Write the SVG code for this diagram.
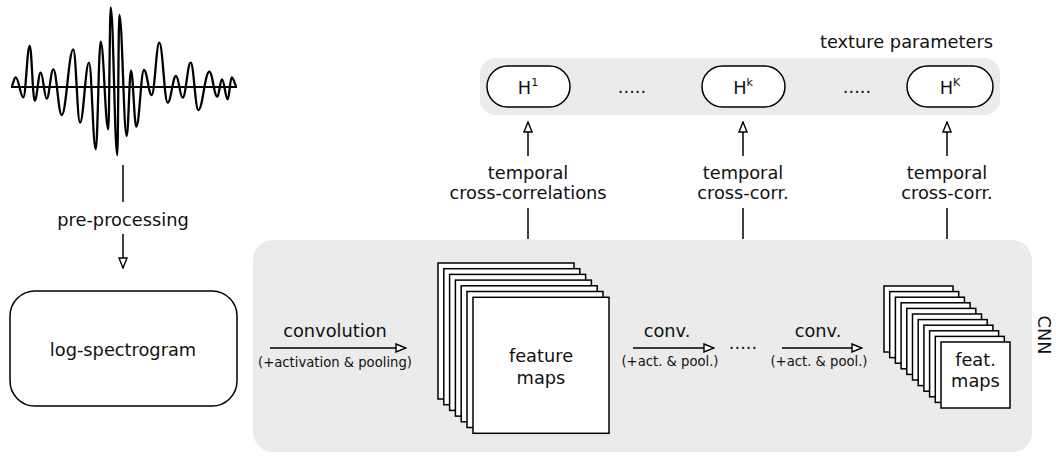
<svg xmlns="http://www.w3.org/2000/svg" width="1056" height="459" viewBox="0 0 1056 459">
<style>
text{font-family:"DejaVu Sans","Liberation Sans",sans-serif;fill:#111}
.t{font-size:17.8px;text-anchor:middle}
.s{font-size:13.2px;text-anchor:middle}
.panel{fill:#ebebeb;stroke:none}
.box{fill:#fff;stroke:#000;stroke-width:1.5}
.sheet{fill:#fff;stroke:#000;stroke-width:1.5}
.ln{stroke:#000;stroke-width:1.5;fill:none}
</style>
<defs>
<marker id="ah" viewBox="0 0 12 10" refX="11" refY="5" markerWidth="12" markerHeight="10" markerUnits="userSpaceOnUse" orient="auto">
<path d="M1,1 L11,5 L1,9 Z" fill="#fff" stroke="#000" stroke-width="1.4"/>
</marker>
</defs>
<g id="waveform">
<line x1="11" y1="87" x2="237" y2="87" stroke="#000" stroke-width="2"/>
<path fill="none" stroke="#000" stroke-width="2.3" d="M11,87 C12.9,87 13.8,77.3 15.7,77.3 C18.7,77.3 20.3,97.3 23.3,97.3 C25.9,97.3 27.1,46 29.7,46 C31.7,46 32.7,100.7 34.7,100.7 C37.1,100.7 38.3,72.7 40.7,72.7 C43.1,72.7 44.3,98.7 46.7,98.7 C49.3,98.7 50.7,69.3 53.3,69.3 C56.7,69.3 58.3,115 61.7,115 C66.3,115 68.7,49.3 73.3,49.3 C76,49.3 77.3,122.7 80,122.7 C83.6,122.7 85.4,62.7 89,62.7 C91.7,62.7 93,149.3 95.7,149.3 C97.7,149.3 98.7,41.7 100.7,41.7 C103.7,41.7 105.3,129.3 108.3,129.3 C109.3,129.3 109.7,7.3 110.7,7.3 C113.3,7.3 114.7,155 117.3,155 C118.1,155 118.5,15 119.3,15 C122.3,15 123.7,136 126.7,136 C128.4,136 129.3,70.7 131,70.7 C133.1,70.7 134.2,126.7 136.3,126.7 C139.4,126.7 140.9,70 144,70 C147.1,70 148.6,95 151.7,95 C154.7,95 156.3,42.7 159.3,42.7 C162.7,42.7 164.3,102.7 167.7,102.7 C171,102.7 172.7,76 176,76 C178.7,76 180,97.7 182.7,97.7 C185.9,97.7 187.5,62.7 190.7,62.7 C193.7,62.7 195.3,110 198.3,110 C202.7,110 204.9,71.7 209.3,71.7 C212.5,71.7 214.1,96.7 217.3,96.7 C219.2,96.7 220.1,79.3 222,79.3 C224.3,79.3 225.4,99.3 227.7,99.3 C229.3,99.3 230.1,77.3 231.7,77.3 C233.8,77.3 235,87 237,87"/>
</g>
<g id="cnn-panel">
<rect class="panel" x="253" y="240" width="779" height="212" rx="20"/>
<text font-size="17.8" transform="translate(1038,335) rotate(90)" text-anchor="middle">CNN</text>
</g>
<g id="texture-panel">
<rect class="panel" x="480" y="58" width="520" height="57" rx="16"/>
<text font-size="17.8" x="993" y="48" text-anchor="end">texture parameters</text>
<text class="t" x="632" y="93">.....</text>
<text class="t" x="857" y="93">.....</text>
</g>
<g id="node-h1">
<rect class="box" x="487" y="66" width="83" height="41" rx="20.5"/>
<text class="t" x="528" y="93.5">H<tspan font-size="11" dy="-7.5">1</tspan></text>
</g>
<g id="node-hk">
<rect class="box" x="702" y="66" width="83" height="41" rx="20.5"/>
<text class="t" x="743" y="93.5">H<tspan font-size="11" dy="-7.5">k</tspan></text>
</g>
<g id="node-hK">
<rect class="box" x="907" y="66" width="86" height="41" rx="20.5"/>
<text class="t" x="950" y="93.5">H<tspan font-size="11" dy="-7.5">K</tspan></text>
</g>
<g id="node-logspec">
<rect class="box" x="10" y="291" width="227" height="115" rx="25"/>
<text class="t" x="123" y="356">log-spectrogram</text>
</g>
<g id="node-featmaps1">
<rect class="sheet" x="438" y="263" width="136" height="136"/>
<rect class="sheet" x="443.8" y="268.7" width="136" height="136"/>
<rect class="sheet" x="449.6" y="274.4" width="136" height="136"/>
<rect class="sheet" x="455.4" y="280.1" width="136" height="136"/>
<rect class="sheet" x="461.2" y="285.8" width="136" height="136"/>
<rect class="sheet" x="467" y="291.5" width="136" height="136"/>
<rect class="sheet" x="473" y="297.3" width="136" height="136"/>
<text class="t" x="541" y="362">feature</text>
<text class="t" x="541" y="384">maps</text>
</g>
<g id="node-featmaps2">
<rect class="sheet" x="884" y="286" width="69" height="66"/>
<rect class="sheet" x="889.7" y="291.6" width="69" height="66"/>
<rect class="sheet" x="895.4" y="297.2" width="69" height="66"/>
<rect class="sheet" x="901.1" y="302.8" width="69" height="66"/>
<rect class="sheet" x="906.8" y="308.4" width="69" height="66"/>
<rect class="sheet" x="912.5" y="314" width="69" height="66"/>
<rect class="sheet" x="918.2" y="319.6" width="69" height="66"/>
<rect class="sheet" x="923.9" y="325.2" width="69" height="66"/>
<rect class="sheet" x="929.6" y="330.8" width="69" height="66"/>
<rect class="sheet" x="935.3" y="336.4" width="69" height="66"/>
<rect class="sheet" x="941" y="342" width="69" height="66"/>
<text class="t" x="975.5" y="366">feat.</text>
<text class="t" x="975.5" y="387">maps</text>
</g>
<g id="connectors">
<line class="ln" x1="123" y1="165" x2="123" y2="202"/>
<text class="t" x="123" y="226">pre-processing</text>
<line class="ln" x1="123" y1="234" x2="123" y2="268" marker-end="url(#ah)"/>
<line class="ln" x1="270" y1="348" x2="406" y2="348" marker-end="url(#ah)"/>
<text class="t" x="335" y="337">convolution</text>
<text class="s" x="335" y="367">(+activation &amp; pooling)</text>
<line class="ln" x1="633" y1="348" x2="714" y2="348" marker-end="url(#ah)"/>
<text class="t" x="667" y="337">conv.</text>
<text class="s" x="670" y="366">(+act. &amp; pool.)</text>
<text class="t" x="743" y="349">.....</text>
<line class="ln" x1="782" y1="348" x2="862" y2="348" marker-end="url(#ah)"/>
<text class="t" x="818" y="337">conv.</text>
<text class="s" x="819" y="366">(+act. &amp; pool.)</text>
<line class="ln" x1="528" y1="239" x2="528" y2="208"/>
<line class="ln" x1="528" y1="156" x2="528" y2="122" marker-end="url(#ah)"/>
<text class="t" x="528" y="179">temporal</text>
<text class="t" x="528" y="199">cross-correlations</text>
<line class="ln" x1="743" y1="239" x2="743" y2="208"/>
<line class="ln" x1="743" y1="156" x2="743" y2="122" marker-end="url(#ah)"/>
<text class="t" x="743" y="179">temporal</text>
<text class="t" x="743" y="199">cross-corr.</text>
<line class="ln" x1="947" y1="239" x2="947" y2="208"/>
<line class="ln" x1="947" y1="156" x2="947" y2="122" marker-end="url(#ah)"/>
<text class="t" x="947" y="179">temporal</text>
<text class="t" x="947" y="199">cross-corr.</text>
</g>
</svg>
